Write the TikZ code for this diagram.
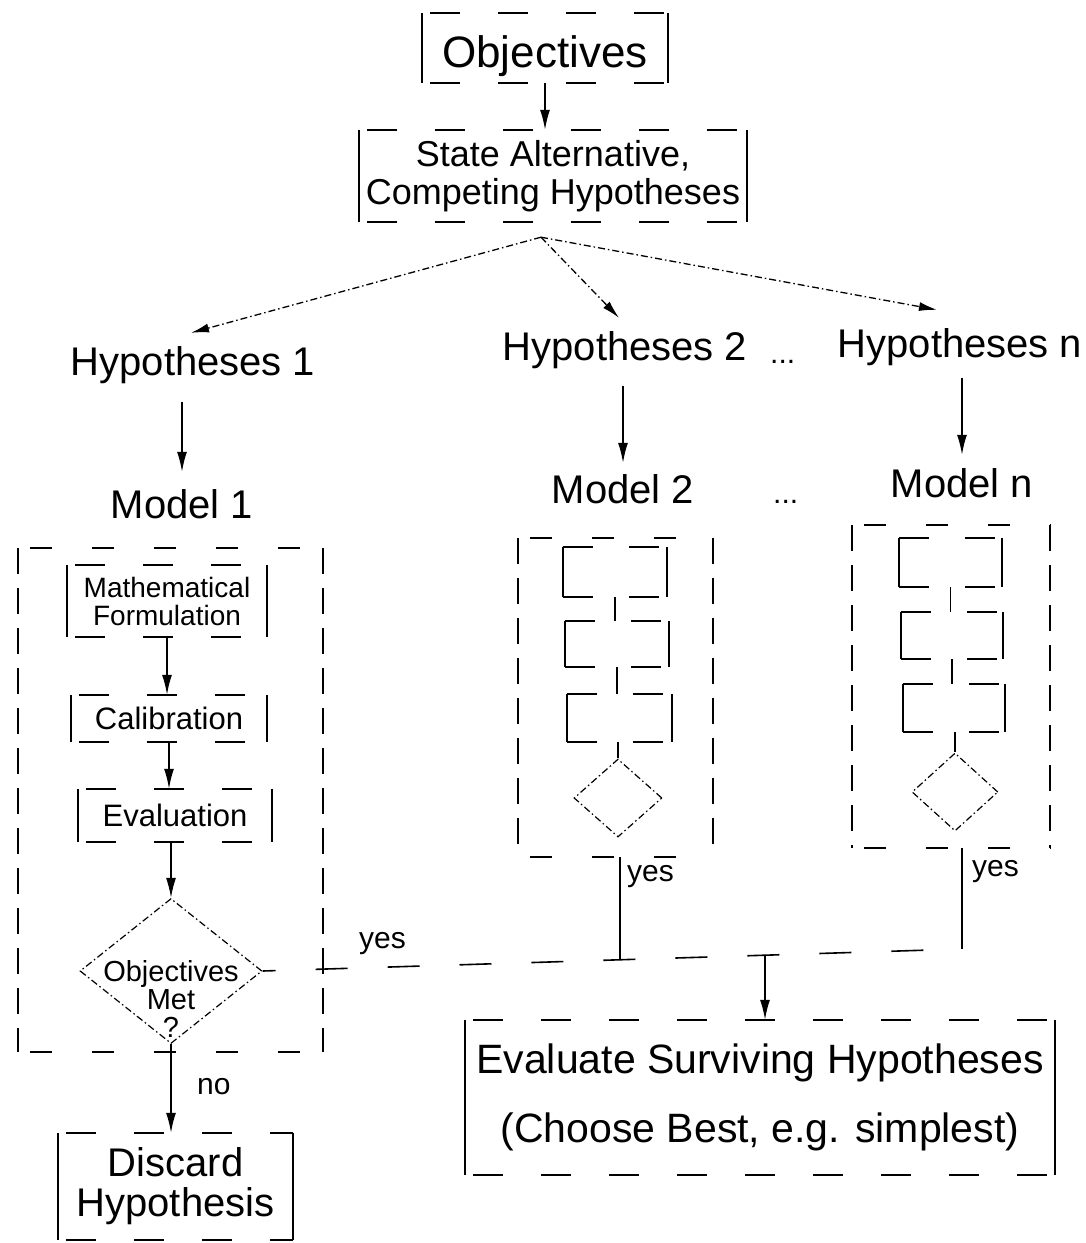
\documentclass[tikz,border=0pt]{standalone}
\usepackage{fontspec}
\setmainfont{Liberation Sans}
\usetikzlibrary{arrows.meta,shapes.geometric,calc}
\newcommand\fsz[2]{\fontsize{#1}{#2}\selectfont}

\begin{document}
\begin{tikzpicture}[x=1pt,y=-1pt,
  % box sides: dashed top and bottom, solid left and right
  hdash/.style={line width=1.8pt, dash pattern=on 30pt off 38pt, dash phase=60pt},
  vsolid/.style={line width=1.8pt},
  frame/.style 2 args={append after command={
      (\tikzlastnode.north west) edge[#1] (\tikzlastnode.north east)
      (\tikzlastnode.south west) edge[#1] (\tikzlastnode.south east)
      (\tikzlastnode.north west) edge[#2] (\tikzlastnode.south west)
      (\tikzlastnode.north east) edge[#2] (\tikzlastnode.south east)}},
  tbox/.style={inner sep=0pt, align=center, frame={hdash}{vsolid}},
  % model enclosures
  mh/.style={line width=1.5pt, dash pattern=on 22pt off 40pt, dash phase=50pt},
  mv/.style={line width=1.5pt, dash pattern=on 26pt off 14pt},
  mbox/.style={inner sep=0pt, frame={mh}{mv}},
  % empty step boxes inside models 2 and n
  ih/.style={line width=1.6pt, dash pattern=on 30pt off 36pt},
  iv/.style={line width=1.6pt},
  ibox/.style={inner sep=0pt, frame={ih}{iv}},
  dia/.style={diamond, draw, line width=1.2pt, dash pattern=on 7pt off 3pt on 1.5pt off 3pt, inner sep=0pt},
  arr/.style={line width=1.6pt, -{Latex[length=20pt,width=10pt]}},
  darr/.style={line width=1.3pt, dash pattern=on 7pt off 3pt on 1.5pt off 3pt, -{Latex[length=18pt,width=9pt]}},
  cline/.style={line width=1.6pt},
  yline/.style={line width=1.6pt, dash pattern=on 32pt off 40pt, dash phase=19pt},
  htxt/.style={font=\fsz{40}{44}, inner sep=0pt},
  lbl/.style={font=\fsz{30}{32}, inner sep=0pt}
]
\fill[white] (0,0) rectangle (1085,1243);
\useasboundingbox (0,0) rectangle (1085,1243);

% top of the chart
\node[tbox, minimum width=245pt, minimum height=70pt, font=\fsz{44}{48}, text height=38pt, text depth=0pt] (obj) at (545,48) {Objectives};
\node[tbox, minimum width=387pt, minimum height=92pt, font=\fsz{36}{38}] (state) at (553,176) {State Alternative,\\Competing Hypotheses};
\draw[arr] (obj.south) -- (obj.south |- state.north);
\coordinate (fork) at ($(state.south)+(-12,15)$);

% hypotheses and models
\node[htxt, anchor=base] (h1) at (193,375) {Hypotheses 1};
\node[htxt, anchor=base] (h2) at (625,360) {Hypotheses 2};
\node[lbl, anchor=base west] (hdots) at (770,363) {...};
\node[htxt, anchor=base] (hn) at (960,357) {Hypotheses n};
\node[htxt, anchor=base] (m1) at (182,518) {Model 1};
\node[htxt, anchor=base] (m2) at (623,503) {Model 2};
\node[lbl, anchor=base west] (mdots) at (773,503) {...};
\node[htxt, anchor=base] (mn) at (962,497) {Model n};

\draw[darr] (fork) -- ($(h1.north)+(-2,-13)$);
\draw[darr] (fork) -- ($(h2.north)+(-6,-13)$);
\draw[darr] (fork) -- ($(hn.north)+(-23,-18)$);
\draw[arr, shorten <=18pt, shorten >=17pt] (m1 |- h1.south) -- (m1.north);
\draw[arr, shorten <=17pt, shorten >=11pt] (m2 |- h2.south) -- (m2.north);
\draw[arr, shorten <=12pt, shorten >=13pt] (mn |- hn.south) -- (mn.north);

% model 1
\node[mbox, minimum width=305pt, minimum height=504pt] (mb1) at (170.5,800) {};
\node[tbox, minimum width=200pt, minimum height=72pt, font=\fsz{28}{28}] (math) at (167,601) {Mathematical\\Formulation};
\node[tbox, minimum width=196pt, minimum height=47pt, font=\fsz{31}{34}] (cal) at (169,718.5) {Calibration};
\node[tbox, minimum width=194pt, minimum height=53pt, font=\fsz{31}{34}] (eva) at (175,815.5) {Evaluation};
\node[dia, minimum width=182pt, minimum height=145pt] (d1) at (171,971) {};
\node[font=\fsz{29}{28}, align=center, inner sep=0pt] (q1) at (171,999) {Objectives\\Met\\?};
\draw[arr] (math.south) -- (math.south |- cal.north);
\draw[arr] (cal.south) -- (cal.south |- eva.north);
\draw[arr] (d1.north |- eva.south) -- (d1.north);

% discard branch
\node[tbox, minimum width=235pt, minimum height=107pt, font=\fsz{40}{40}] (disc) at (175.5,1186.5) {Discard\\Hypothesis};
\draw[arr] (d1.south) -- (d1.south |- disc.north);
\node[lbl, anchor=west] (no) at (197,1087) {no};

% model 2
\node[mbox, minimum width=195pt, minimum height=319pt] (mb2) at (615.5,697.5) {};
\node[ibox, minimum width=104pt, minimum height=50pt] (a1) at (615,572) {};
\node[ibox, minimum width=104pt, minimum height=46pt] (a2) at (617,644) {};
\node[ibox, minimum width=105pt, minimum height=48pt] (a3) at (619.5,718) {};
\node[dia, minimum width=88pt, minimum height=78pt] (ad) at (618,798) {};
\draw[cline] (a1.south) -- (a1.south |- a2.north);
\draw[cline] (a2.south) -- (a2.south |- a3.north);
\draw[cline] (ad.north |- a3.south) -- (ad.north);

% model n
\node[mbox, minimum width=198pt, minimum height=323pt] (mbn) at (951,686.5) {};
\node[ibox, minimum width=103pt, minimum height=49pt] (b1) at (950.5,562.5) {};
\node[ibox, minimum width=102pt, minimum height=47pt] (b2) at (952,635.5) {};
\node[ibox, minimum width=102pt, minimum height=48pt] (b3) at (954,708) {};
\node[dia, minimum width=86pt, minimum height=78pt] (bd) at (955,792) {};
\draw[cline] (b1.south) -- (b1.south |- b2.north);
\draw[cline] (b2.south) -- (b2.south |- b3.north);
\draw[cline] (bd.north |- b3.south) -- (bd.north);

% "yes" paths joining towards the final evaluation
\coordinate (j2) at (620,959);
\coordinate (jm) at (765,955);
\coordinate (jn) at (962,949);
\draw[yline] (d1.east) -- (jn);
\draw[cline] (j2 |- mb2.south) -- (j2);
\draw[cline] (jn |- mbn.south) -- (jn);
\node[lbl, anchor=west] (y1) at (359,944) {yes};
\node[lbl, anchor=west] (y2) at (627,877) {yes};
\node[lbl, anchor=west] (yn) at (972,872) {yes};

\node[tbox, minimum width=590pt, minimum height=155pt, font=\fsz{41}{69}] (surv) at (760,1097.5) {Evaluate Surviving Hypotheses\\(Choose Best, e.g. simplest)};
\draw[arr] (jm) -- (jm |- surv.north);
\end{tikzpicture}
\end{document}
